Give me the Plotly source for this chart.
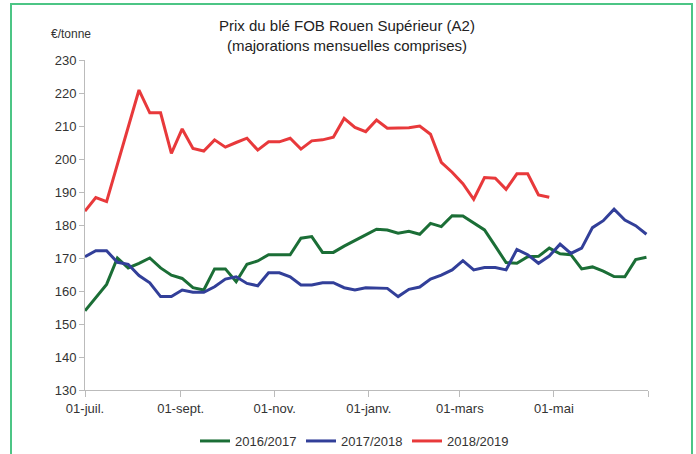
import pandas as pd
import plotly.graph_objects as go

# ---- data ----
week_dates = [d.strftime("%Y-%m-%d") for d in pd.date_range("2000-07-01", periods=53, freq="7D")]

prix_2016_2017 = [154, 158, 162, 170, 167, 168.4, 170, 167, 164.8, 163.8,
                  161, 160.3, 166.7, 166.7, 162.8, 168.1, 169.1, 171, 171, 171,
                  176, 176.5, 171.7, 171.7, 173.6, 175.2, 177, 178.7, 178.5, 177.5,
                  178.1, 177.2, 180.5, 179.5, 182.8, 182.7, 180.5, 178.5, 173.6, 168.6,
                  168.4, 170.4, 170.5, 173, 171.3, 171, 166.7, 167.3, 166, 164.4,
                  164.3, 169.5, 170.2]

prix_2017_2018 = [170.4, 172.2, 172.2, 168.7, 168.1, 164.7, 162.5, 158.3, 158.3, 160.3,
                  159.6, 159.6, 161.3, 163.6, 164.3, 162.3, 161.6, 165.5, 165.5, 164.3,
                  161.8, 161.8, 162.5, 162.5, 161, 160.3, 161, 161, 160.8, 158.3,
                  160.5, 161.2, 163.6, 164.8, 166.4, 169.2, 166.4, 167.1, 167.1, 166.4,
                  172.6, 171, 168.4, 170.6, 174.2, 171.4, 173, 179.2, 181.3, 184.8,
                  181.5, 179.8, 177.2]

prix_2018_2019 = [184.2, 188.3, 187.1, 198.3, 209.5, 220.9, 214, 214, 201.7, 209.1,
                  203.2, 202.4, 205.8, 203.6, 205, 206.3, 202.7, 205.2, 205.2, 206.3,
                  203, 205.5, 205.8, 206.6, 212.3, 209.6, 208.3, 211.8, 209.3, 209.3,
                  209.5, 210, 207.5, 199, 196, 192.5, 187.8, 194.4, 194.2, 190.8,
                  195.5, 195.5, 189.1, 188.4]

series_names = ["2016/2017", "2017/2018", "2018/2019"]
series_values = [prix_2016_2017, prix_2017_2018, prix_2018_2019]
series_colors = ["#1b6e36", "#323f99", "#e8393b"]

tick_dates = ["2000-07-01", "2000-09-01", "2000-11-01", "2001-01-01",
              "2001-03-01", "2001-05-01", "2001-07-01"]
tick_labels = ["01-juil.", "01-sept.", "01-nov.", "01-janv.", "01-mars", "01-mai", ""]

FONT = "Liberation Sans, Arial, sans-serif"

fig = go.Figure()
for name, vals, col in zip(series_names, series_values, series_colors):
    fig.add_trace(go.Scatter(
        x=week_dates[:len(vals)], y=vals, name=name, mode="lines",
        line=dict(color=col, width=3),
    ))

W, H = 696, 454
L, R, T, B = 85, 48, 60, 64
pw, ph = W - L - R, H - T - B

def px_x(x):
    return (x - L) / pw

def px_y(y):
    return (H - B - y) / ph

fig.update_layout(
    width=W, height=H,
    margin=dict(l=L, r=R, t=T, b=B, autoexpand=False),
    paper_bgcolor="white", plot_bgcolor="white",
    font=dict(family=FONT, size=13, color="#333333"),
    showlegend=True,
    legend=dict(orientation="h", xref="container", yref="container",
                x=354 / W, xanchor="center",
                y=1 - 441 / H, yanchor="middle",
                font=dict(family=FONT, size=13, color="#333333"),
                itemwidth=30, tracegroupgap=0, bgcolor="rgba(0,0,0,0)",
                entrywidth=61, entrywidthmode="pixels"),
    xaxis=dict(type="date", range=["2000-07-01", "2001-07-01"],
               tickmode="array", tickvals=tick_dates, ticktext=tick_labels,
               ticks="outside", ticklen=6, tickcolor="#bbbbbb", tickwidth=1,
               showline=True, linecolor="#bbbbbb", linewidth=1,
               showgrid=False, zeroline=False, tickangle=0, automargin=False,
               tickfont=dict(family=FONT, size=13, color="#333333")),
    yaxis=dict(range=[130, 230], dtick=10, tick0=130,
               ticks="outside", ticklen=5, tickcolor="#bbbbbb", tickwidth=1,
               showline=True, linecolor="#bbbbbb", linewidth=1,
               showgrid=False, zeroline=False, automargin=False,
               tickfont=dict(family=FONT, size=13, color="#333333")),
    annotations=[
        dict(text="Prix du blé FOB Rouen Supérieur (A2)<br>(majorations mensuelles comprises)",
             xref="paper", yref="paper", x=px_x(347), y=px_y(35.5),
             xanchor="center", yanchor="middle", showarrow=False,
             font=dict(family=FONT, size=15, color="#222222")),
        dict(text="€/tonne", xref="paper", yref="paper",
             x=px_x(71), y=px_y(34), xanchor="center", yanchor="middle",
             showarrow=False, font=dict(family=FONT, size=12, color="#333333")),
    ],
    shapes=[
        dict(type="rect", xref="paper", yref="paper",
             x0=px_x(11), x1=px_x(692), y0=px_y(480), y1=px_y(4),
             line=dict(color="#4cc585", width=2), fillcolor="rgba(0,0,0,0)",
             layer="below"),
    ],
)

fig.write_html("out.html", config={"displayModeBar": False},
               post_script="document.body.style.margin='0';document.body.style.overflow='hidden';")
